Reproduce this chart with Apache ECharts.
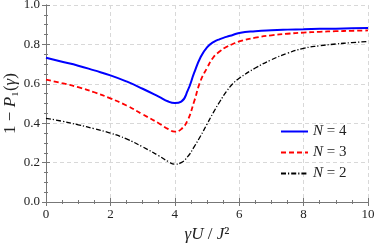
<!DOCTYPE html>
<html><head><meta charset="utf-8">
<script src="https://cdn.jsdelivr.net/npm/echarts@6/dist/echarts.min.js"></script>
<style>html,body{margin:0;padding:0;background:#fff}#c{width:374px;height:245px}</style>
</head><body><div id="c"></div>
<script>
const xs = [0,0.5,1,1.5,2,2.5,3,3.5,3.8,4,4.2,4.4,4.6,4.8,5,5.2,5.4,5.6,5.8,6,6.5,7,7.5,8,8.5,9,9.5,10];
const n4 = [0.732,0.712,0.692,0.668,0.643,0.612,0.575,0.535,0.51,0.503,0.51,0.565,0.655,0.735,0.785,0.812,0.827,0.838,0.848,0.858,0.867,0.872,0.875,0.877,0.879,0.88,0.882,0.883];
const n3 = [0.621,0.603,0.583,0.557,0.526,0.49,0.445,0.40,0.37,0.357,0.37,0.415,0.51,0.615,0.68,0.735,0.765,0.787,0.802,0.815,0.834,0.846,0.854,0.86,0.864,0.867,0.869,0.871];
const n2 = [0.425,0.41,0.392,0.372,0.35,0.32,0.28,0.235,0.205,0.192,0.20,0.23,0.28,0.335,0.395,0.455,0.51,0.56,0.60,0.628,0.68,0.722,0.755,0.78,0.793,0.802,0.809,0.815];
const names = ['N = 4','N = 3','N = 2'];
const pair = (ys) => xs.map((x,i)=>[x,ys[i]]);
const F = 'Liberation Serif, DejaVu Serif, serif';
const axisCol = '#777';
const richI = {i:{fontFamily:F, fontStyle:'italic', fontSize:17, color:'#222'}};
const richL = {i:{fontFamily:F, fontStyle:'italic', fontSize:15, color:'#222'}};
function mkX(pos, lbl){
  return {type:'value', position:pos, min:0, max:10, interval:2,
    axisLine:{show:true, lineStyle:{color:axisCol,width:1}},
    axisTick:{show:true, inside:true, length:4, lineStyle:{color:axisCol}},
    minorTick:{show:true, splitNumber:4, length:2, lineStyle:{color:axisCol}},
    splitLine:{show:lbl, lineStyle:{color:'#d8d8d8', type:[4,3]}},
    axisLabel:{show:lbl, fontFamily:F, fontSize:13, color:'#222', margin:6},
    name: lbl ? '{i|γU} / {i|J}²' : '', nameLocation:'middle', nameGap:24, nameMoveOverlap:false,
    nameTextStyle:{fontFamily:F, fontSize:17, color:'#222', rich:richI}
  };
}
function mkY(pos, lbl){
  return {type:'value', position:pos, min:0, max:1, interval:0.2,
    axisLine:{show:true, lineStyle:{color:axisCol,width:1}},
    axisTick:{show:true, inside:true, length:4, lineStyle:{color:axisCol}},
    minorTick:{show:true, splitNumber:4, length:2, lineStyle:{color:axisCol}},
    splitLine:{show:lbl, lineStyle:{color:'#d8d8d8', type:[4,3]}},
    axisLabel:{show:lbl, fontFamily:F, fontSize:13, color:'#222', margin:6, formatter:v=>v.toFixed(1)},
    name: lbl ? '1 − {i|P}₁({i|γ})' : '', nameLocation:'middle', nameGap:27, nameRotate:90, nameMoveOverlap:false,
    nameTextStyle:{fontFamily:F, fontSize:17, color:'#222', rich:richI}
  };
}
const chart = echarts.init(document.getElementById('c'), null, {renderer:'canvas'});
chart.setOption({
  animation:false,
  grid:{left:46, right:6, top:5, bottom:43, containLabel:false, outerBoundsMode:'none'},
  xAxis:[mkX('bottom',true), mkX('top',false)],
  yAxis:[mkY('left',true), mkY('right',false)],
  legend:{
    orient:'vertical', left:275, top:119, itemWidth:27, itemHeight:14, itemGap:6,
    data:names,
    itemStyle:{opacity:0},
    formatter: n => '{i|N} = ' + n.slice(4),
    textStyle:{fontFamily:F, fontSize:15, color:'#222', rich:richL}
  },
  series:[
    {name:names[0], type:'line', smooth:true, symbol:'none', data:pair(n4), lineStyle:{color:'#0000ff', width:2}, itemStyle:{color:'#0000ff'}},
    {name:names[1], type:'line', smooth:true, symbol:'none', data:pair(n3), lineStyle:{color:'#ff0000', width:1.8, type:[5,3]}, itemStyle:{color:'#ff0000'}},
    {name:names[2], type:'line', smooth:true, symbol:'none', data:pair(n2), lineStyle:{color:'#000000', width:1.3, type:[5,2,1.2,2]}, itemStyle:{color:'#000'}}
  ]
});
</script></body></html>
